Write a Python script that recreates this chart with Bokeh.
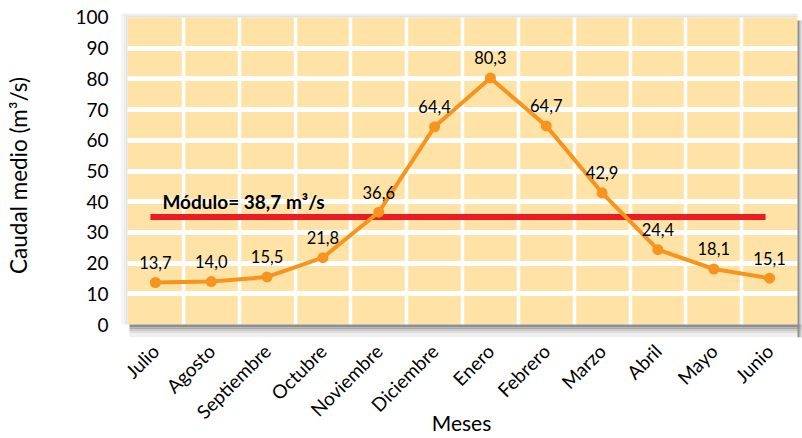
from bokeh.plotting import figure
from bokeh.models import Range1d, FixedTicker, ColumnDataSource
from bokeh.core.properties import value
from bokeh.embed import file_html
from bokeh.resources import INLINE
import math

# ---------------- data ----------------
meses = ["Julio", "Agosto", "Septiembre", "Octubre", "Noviembre", "Diciembre",
         "Enero", "Febrero", "Marzo", "Abril", "Mayo", "Junio"]
caudal = [13.7, 14.0, 15.5, 21.8, 36.6, 64.4, 80.3, 64.7, 42.9, 24.4, 18.1, 15.1]
modulo = 38.7            # value printed in the label
modulo_linea = 35.0      # height at which the red line is drawn in the picture
y_ticks = [0, 10, 20, 30, 40, 50, 60, 70, 80, 90, 100]
x_titulo = "Meses"
y_titulo = "Caudal medio (m³/s)"

# ---------------- styling / layout ----------------
FONT = "Lato"
BEIGE = "#fee2a6"
ORANGE = "#f7941d"
RED = "#ed1c24"

n = len(meses)
PX_X = 670.0 / n          # pixels per category
PX_Y = 309.0 / 100.0      # pixels per unit
def dx(px):
    return px / PX_X
def dy(px):
    return px / PX_Y

x0, x1 = -0.5, n - 0.5
ymin, ymax = y_ticks[0], y_ticks[-1]

p = figure(width=802, height=438,
           x_range=Range1d(x0 - dx(7), x1 + dx(5)),
           y_range=Range1d(ymin - dy(13), ymax + dy(4)),
           output_backend="svg", toolbar_location=None,
           min_border_left=120, min_border_right=0,
           min_border_top=13, min_border_bottom=100)
p.outline_line_color = None
p.background_fill_color = "white"
p.border_fill_color = "white"

# beige plot area (below the grid)
bg = p.quad(left=[x0], right=[x1], bottom=[ymin], top=[ymax],
            fill_color=BEIGE, line_color=None)
bg.level = "image"

# grid
p.xgrid.ticker = FixedTicker(ticks=[i + 0.5 for i in range(n - 1)])
p.ygrid.ticker = FixedTicker(ticks=y_ticks[1:-1])
p.xgrid.grid_line_color = "white"
p.ygrid.grid_line_color = "white"
p.xgrid.grid_line_width = 3.5
p.ygrid.grid_line_width = 5

# shadows / borders around the plot area
shade = ["#8e8e8e", "#a9a9a9", "#c6c6c6", "#dedede", "#f0f0f0"]
b_edges = [0, 3, 5, 7, 9, 13]
for i in range(5):
    p.quad(left=[x0 + dx(2)], right=[x1 + dx(5)],
           top=[ymin - dy(b_edges[i])], bottom=[ymin - dy(b_edges[i + 1])],
           fill_color=shade[i], line_color=None)
r_edges = [0, 2, 3, 4, 5]
for i in range(4):
    p.quad(left=[x1 + dx(r_edges[i])], right=[x1 + dx(r_edges[i + 1])],
           top=[ymax - dy(3)], bottom=[ymin - dy(13)],
           fill_color=shade[i], line_color=None)
light = ["#e2e2e2", "#ececec", "#f5f5f5"]
l_edges = [0, 2, 4, 7]
for i in range(3):
    p.quad(left=[x0 - dx(l_edges[i + 1])], right=[x0 - dx(l_edges[i])],
           top=[ymax + dy(4)], bottom=[ymin],
           fill_color=light[i], line_color=None)
t_edges = [0, 2, 4]
for i in range(2):
    p.quad(left=[x0 - dx(l_edges[i])], right=[x1],
           top=[ymax + dy(t_edges[i + 1])], bottom=[ymax + dy(t_edges[i])],
           fill_color=light[i], line_color=None)

# axes
p.yaxis.ticker = FixedTicker(ticks=y_ticks)
p.xaxis.ticker = FixedTicker(ticks=list(range(n)))
p.xaxis.major_label_overrides = {i: m for i, m in enumerate(meses)}
p.xaxis.major_label_orientation = math.pi / 4
for ax in (p.xaxis, p.yaxis):
    ax.axis_line_color = None
    ax.major_tick_line_color = None
    ax.minor_tick_line_color = None
    ax.major_label_text_font = FONT
    ax.major_label_text_color = "black"
    ax.axis_label_text_font = FONT
    ax.axis_label_text_font_style = "normal"
    ax.axis_label_text_color = "black"
p.yaxis.major_label_text_font_size = "19px"
p.yaxis.major_label_standoff = 6
p.yaxis.axis_label = y_titulo
p.yaxis.axis_label_text_font_size = "22.5px"
p.yaxis.axis_label_standoff = 40
p.xaxis.major_label_text_font_size = "19px"
p.xaxis.major_label_standoff = 4
p.xaxis.axis_label = x_titulo
p.xaxis.axis_label_text_font_size = "21px"
p.xaxis.axis_label_standoff = -24

# module line and label
p.segment(x0=[0 - dx(5)], y0=[modulo_linea], x1=[n - 1 - dx(4)], y1=[modulo_linea],
          line_color=RED, line_width=6, line_cap="butt")
mod_text = "Módulo= " + f"{modulo:.1f}".replace(".", ",") + " m³/s"
p.text(x=[0 + dx(7)], y=[modulo_linea], text=[mod_text], y_offset=-16,
       text_font=value(FONT), text_font_style="bold", text_font_size="19px",
       text_align="left", text_baseline="middle", text_color="black")

# series
src = ColumnDataSource(dict(
    x=list(range(n)), y=caudal,
    lab=[f"{v:.1f}".replace(".", ",") for v in caudal]))
p.line(x="x", y="y", source=src, line_color=ORANGE, line_width=4)
p.scatter(x="x", y="y", source=src, size=11, fill_color=ORANGE, line_color=None)
p.text(x="x", y="y", text="lab", source=src, y_offset=-20,
       text_font=value(FONT), text_font_size="16.5px",
       text_align="center", text_baseline="middle", text_color="black")

open("out.html", "w").write(file_html(p, INLINE))
